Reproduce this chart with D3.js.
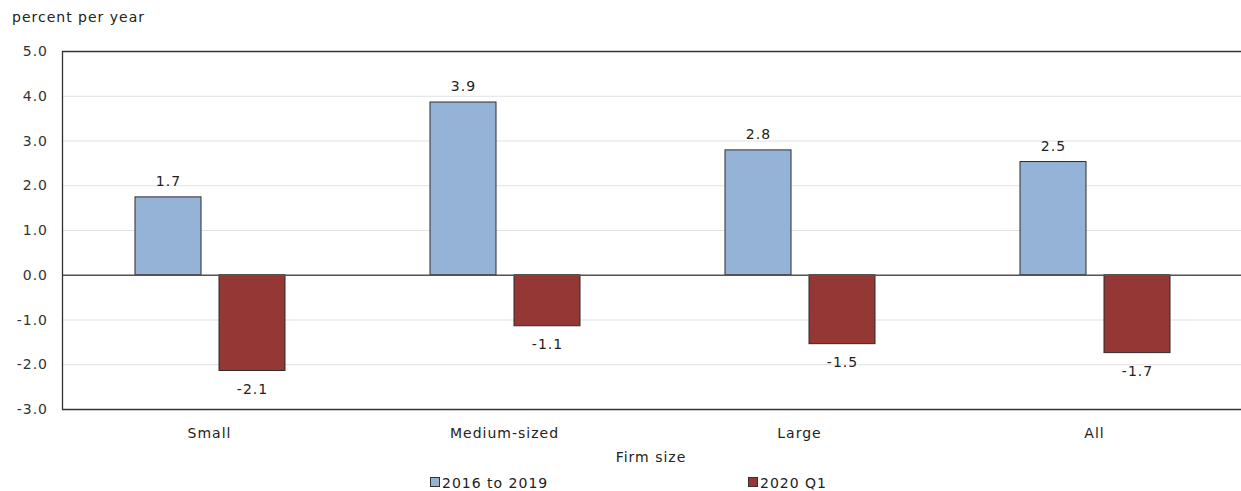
<!DOCTYPE html>
<html><head><meta charset="utf-8">
<script src="https://cdn.jsdelivr.net/npm/d3@7"></script>
<style>body{margin:0;background:#fff}text{font-family:"DejaVu Sans",Verdana,sans-serif;letter-spacing:1px}</style>
</head><body><svg id="c" width="1241" height="491"></svg>
<script>
const categories = ["Small","Medium-sized","Large","All"];
const series1 = [1.74, 3.86, 2.79, 2.53];   // 2016 to 2019
const series2 = [-2.14, -1.14, -1.54, -1.74]; // 2020 Q1
const labels1 = ["1.7","3.9","2.8","2.5"];
const labels2 = ["-2.1","-1.1","-1.5","-1.7"];
const yTicks = [5,4,3,2,1,0,-1,-2,-3];
const seriesNames = ["2016 to 2019","2020 Q1"];
const colors = ["#95b3d7","#953735"];

const svg = d3.select("#c");
const L=62, R=1242, T=51, B=409;
const x = d3.scaleBand().domain(categories).range([L,R]);
const y = d3.scaleLinear().domain([-3,5]).range([B,T]);
const fs = 14;

svg.append("g").selectAll("line").data(yTicks).join("line")
  .attr("x1",L).attr("x2",R).attr("y1",d=>y(d)+0.5).attr("y2",d=>y(d)+0.5)
  .attr("stroke","#e1e1e1").attr("stroke-width",1);

svg.append("g").selectAll("text").data(yTicks).join("text")
  .attr("x",48).attr("y",d=>y(d)+5).attr("text-anchor","end")
  .attr("font-size",fs).attr("fill","#333").text(d=>d.toFixed(1));

const bw = 66, gap = 18;
const off = (x.bandwidth() - 2*bw - gap)/2;
const all = [series1, series2];
all.forEach((s,si)=>{
  const g = svg.append("g");
  g.selectAll("rect").data(s).join("rect")
    .attr("x",(d,i)=>x(categories[i])+off+si*(bw+gap)+0.5)
    .attr("y",d=>y(Math.max(0,d)))
    .attr("width",bw)
    .attr("height",d=>Math.abs(y(d)-y(0)))
    .attr("fill",colors[si]).attr("stroke","#2b2b2b").attr("stroke-width",1);
  const labs = si===0?labels1:labels2;
  g.selectAll("text").data(s).join("text")
    .attr("x",(d,i)=>x(categories[i])+off+si*(bw+gap)+bw/2+1)
    .attr("y",d=> d>=0 ? y(d)-11 : y(d)+23)
    .attr("text-anchor","middle").attr("font-size",fs).attr("fill","#222")
    .text((d,i)=>labs[i]);
});

svg.append("line").attr("x1",L).attr("x2",R).attr("y1",y(0)+0.5).attr("y2",y(0)+0.5)
  .attr("stroke","#555").attr("stroke-width",1.3);

svg.append("path").attr("d",`M${R},${T+0.5}H${L+0.5}V${B+0.5}H${R}`)
  .attr("fill","none").attr("stroke","#333").attr("stroke-width",1.3);

svg.append("g").selectAll("text").data(categories).join("text")
  .attr("x",d=>x(d)+x.bandwidth()/2).attr("y",438).attr("text-anchor","middle")
  .attr("font-size",fs).attr("fill","#222").text(d=>d);

svg.append("text").attr("x",651).attr("y",462).attr("text-anchor","middle")
  .attr("font-size",fs).attr("fill","#222").text("Firm size");

svg.append("text").attr("x",12).attr("y",22).attr("font-size",fs).attr("fill","#222").text("percent per year");

const legX = [430, 748];
seriesNames.forEach((n,i)=>{
  svg.append("rect").attr("x",legX[i]+0.5).attr("y",477.5).attr("width",9).attr("height",9)
    .attr("fill",colors[i]).attr("stroke","#333").attr("stroke-width",1);
  svg.append("text").attr("x",legX[i]+12).attr("y",488).attr("font-size",fs).attr("fill","#222").text(n);
});
</script></body></html>
